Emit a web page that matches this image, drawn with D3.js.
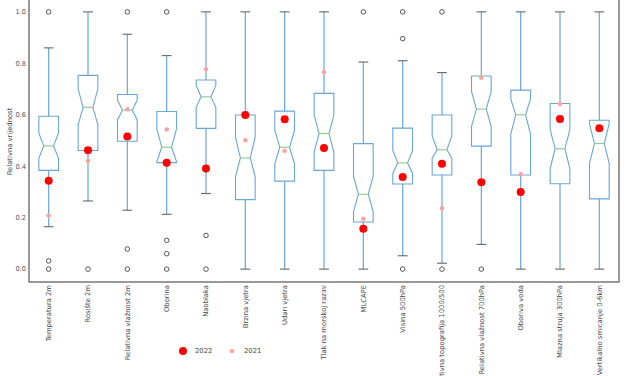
<!DOCTYPE html>
<html lang="hr">
<head>
<meta charset="UTF-8">
<title>Relativna vrijednost</title>
<script src="https://d3js.org/d3.v7.min.js"></script>
<style>
    body { margin: 0; background: #fff; }
    text { font-family: "DejaVu Sans", sans-serif; }
</style>
</head>
<body>
<svg width="627" height="376"></svg>
<script>
// podaci procijenjeni sa slike
const categories = ["Temperatura 2m", "Rosište 2m", "Relativna vlažnost 2m", "Oborina", "Naoblaka",
    "Brzina vjetra", "Udari vjetra", "Tlak na morskoj razini", "MLCAPE", "Visina 500hPa",
    "Relativna topografija 1000/500", "Relativna vlažnost 700hPa", "Oboriva voda",
    "Mlazna struja 300hPa", "Vertikalno smicanje 0-6km"];
const whiskerLo = [0.165, 0.265, 0.229, 0.213, 0.294, 0, 0, 0, 0, 0.052, 0.023, 0.096, 0, 0, 0];
const q1 =        [0.384, 0.461, 0.497, 0.414, 0.547, 0.270, 0.342, 0.384, 0.183, 0.331, 0.366, 0.478, 0.366, 0.332, 0.273];
const notchLo =   [0.431, 0.561, 0.581, 0.418, 0.629, 0.360, 0.409, 0.456, 0.223, 0.373, 0.431, 0.555, 0.526, 0.392, 0.412];
const median =    [0.479, 0.629, 0.618, 0.474, 0.670, 0.432, 0.474, 0.527, 0.291, 0.413, 0.464, 0.622, 0.600, 0.468, 0.488];
const notchHi =   [0.529, 0.700, 0.657, 0.545, 0.714, 0.513, 0.539, 0.599, 0.360, 0.461, 0.518, 0.691, 0.661, 0.542, 0.565];
const q3 =        [0.594, 0.753, 0.679, 0.613, 0.735, 0.599, 0.614, 0.683, 0.488, 0.548, 0.599, 0.751, 0.696, 0.644, 0.579];
const whiskerHi = [0.860, 1.0, 0.913, 0.830, 1.0, 1.0, 1.0, 1.0, 0.805, 0.810, 0.764, 1.0, 1.0, 1.0, 1.0];
const fliers = [[1.0, 0.032, 0], [0], [1.0, 0.078, 0], [1.0, 0.112, 0.060, 0], [0.131, 0],
    [], [], [], [1.0], [1.0, 0.896, 0], [1.0, 0], [0], [], [], []];
const v2022 = [0.344, 0.462, 0.516, 0.414, 0.391, 0.599, 0.583, 0.471, 0.157, 0.358, 0.410, 0.338, 0.300, 0.584, 0.548];
const v2021 = [0.208, 0.421, 0.621, 0.543, 0.777, 0.501, 0.460, 0.765, 0.196, 0.358, 0.236, 0.744, 0.369, 0.642, 0.548];
const yTicks = [0, 0.2, 0.4, 0.6, 0.8, 1.0];

const svg = d3.select("svg");
const plotLeft = 29, plotRight = 619, plotBottom = 282, plotTop = -1;

const x = d3.scaleLinear().domain([0.5, categories.length + 0.5]).range([plotLeft, plotRight]);
const y = d3.scaleLinear().domain([-0.05, 1.05]).range([plotBottom, plotTop]);
const boxW = x(1.25) - x(1);   // pola sirine kutije

const boxColor = "#6aa6d8", medColor = "#86cc86", capColor = "#666", gray = "#555";

const g = svg.append("g");

categories.forEach((c, i) => {
    const cx = x(i + 1);
    const l = cx - boxW, r = cx + boxW, nl = cx - boxW / 2, nr = cx + boxW / 2;
    // brkovi
    g.append("line").attr("x1", cx).attr("x2", cx).attr("y1", y(whiskerLo[i])).attr("y2", y(q1[i]))
        .attr("stroke", boxColor).attr("stroke-width", 1.2);
    g.append("line").attr("x1", cx).attr("x2", cx).attr("y1", y(q3[i])).attr("y2", y(whiskerHi[i]))
        .attr("stroke", boxColor).attr("stroke-width", 1.2);
    [whiskerLo[i], whiskerHi[i]].forEach(v => {
        g.append("line").attr("x1", nl).attr("x2", nr).attr("y1", y(v)).attr("y2", y(v))
            .attr("stroke", capColor).attr("stroke-width", 1.1);
    });
    // kutija s urezom
    const pts = [[l, q1[i]], [r, q1[i]], [r, notchLo[i]], [nr, median[i]], [r, notchHi[i]], [r, q3[i]],
        [l, q3[i]], [l, notchHi[i]], [nl, median[i]], [l, notchLo[i]]];
    g.append("path")
        .attr("d", d3.line().x(d => d[0]).y(d => y(d[1]))(pts) + "Z")
        .attr("fill", "none").attr("stroke", boxColor).attr("stroke-width", 1.1);
    g.append("line").attr("x1", nl).attr("x2", nr).attr("y1", y(median[i])).attr("y2", y(median[i]))
        .attr("stroke", medColor).attr("stroke-width", 1.1);
    // outlieri
    fliers[i].forEach(v => {
        g.append("circle").attr("cx", cx).attr("cy", y(v)).attr("r", 2.3)
            .attr("fill", "none").attr("stroke", "#555").attr("stroke-width", 1);
    });
});

// 2021 pa 2022
g.selectAll(".p2021").data(v2021).enter().append("circle")
    .attr("cx", (d, i) => x(i + 1)).attr("cy", d => y(d)).attr("r", 2.3)
    .attr("fill", "#ffa3a3");
g.selectAll(".p2022").data(v2022).enter().append("circle")
    .attr("cx", (d, i) => x(i + 1)).attr("cy", d => y(d)).attr("r", 4)
    .attr("fill", "#ff0000");

// okvir
svg.append("rect").attr("x", plotLeft).attr("y", plotTop).attr("width", plotRight - plotLeft).attr("height", plotBottom - plotTop)
    .attr("fill", "none").attr("stroke", gray).attr("stroke-width", 1.2);

// y os
svg.append("g").selectAll("text").data(yTicks).enter().append("text")
    .attr("x", plotLeft - 3).attr("y", d => y(d)).attr("dy", "0.35em")
    .attr("text-anchor", "end").attr("font-size", 6.6).attr("fill", gray)
    .text(d => d.toFixed(1));
svg.append("text")
    .attr("transform", `translate(12,${y(0.5) + 1}) rotate(-90)`)
    .attr("text-anchor", "middle").attr("font-size", 6.8).attr("fill", "#444")
    .text("Relativna vrijednost");

// x os
svg.append("g").selectAll("text").data(categories).enter().append("text")
    .attr("transform", (d, i) => `translate(${x(i + 1) + 2.4},${plotBottom + 3}) rotate(-90)`)
    .attr("text-anchor", "end").attr("font-size", 6.8).attr("fill", "#444")
    .text(d => d);

// legenda
const legend = svg.append("g").attr("transform", "translate(0,351)");
legend.append("circle").attr("cx", 183).attr("cy", 0).attr("r", 4).attr("fill", "#ff0000");
legend.append("text").attr("x", 195).attr("y", 0).attr("dy", "0.35em").attr("font-size", 6.8).attr("fill", "#444").text("2022");
legend.append("circle").attr("cx", 232).attr("cy", 0).attr("r", 2.3).attr("fill", "#ffa3a3");
legend.append("text").attr("x", 244).attr("y", 0).attr("dy", "0.35em").attr("font-size", 6.8).attr("fill", "#444").text("2021");
</script>
</body>
</html>
